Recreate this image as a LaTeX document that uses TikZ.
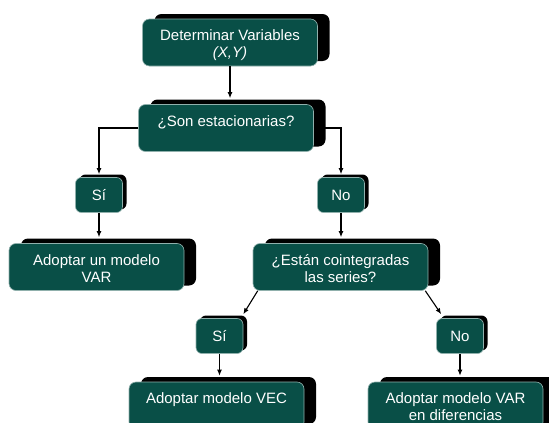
\documentclass[tikz,border=0pt]{standalone}
\usepackage{fontspec}
\setmainfont{Liberation Sans}
\usepackage{tikz}
\usetikzlibrary{shadows, arrows.meta}

\definecolor{boxgreen}{RGB}{9,79,71}

\tikzset{
    basebox/.style={draw=white!55!boxgreen, line width=0.6pt, fill=boxgreen, text=white, inner sep=0pt},
    bigbox/.style={basebox, rounded corners=7pt, minimum width=175pt, minimum height=47pt,
        drop shadow={shadow xshift=12pt, shadow yshift=5pt, fill=black, opacity=1}},
    smallbox/.style={basebox, rounded corners=6pt, minimum width=47pt, minimum height=35pt,
        drop shadow={shadow xshift=4pt, shadow yshift=3pt, fill=black, opacity=1}},
    boxtext/.style={anchor=north, yshift=-11pt, align=center, text=white, inner sep=0pt},
    arr/.style={-{Latex[length=6pt, width=5pt]}, line width=1.1pt},
}

\begin{document}
\begin{tikzpicture}[x=1pt, y=-1pt, font=\fontsize{15}{17}\selectfont]
    \useasboundingbox (0,0) rectangle (549,423);
    \clip (0,0) rectangle (549,423);

    % question boxes
    \node[bigbox, label={[boxtext]north:Determinar Variables\\\textit{(X,Y)}}] (vars) at (230,42.5) {};
    \node[bigbox, label={[boxtext]north:¿Son estacionarias?}] (estac) at (226,128) {};
    \node[bigbox, label={[boxtext]north:¿Están cointegradas\\las series?}] (coint) at (340.5,267) {};

    % answers
    \node[smallbox] (si1) at (99,195) {Sí};
    \node[smallbox] (no1) at (341,195) {No};
    \node[smallbox] (si2) at (219.5,336) {Sí};
    \node[smallbox] (no2) at (460,336) {No};

    % results
    \node[bigbox, label={[boxtext]north:Adoptar un modelo\\VAR}] (var) at (96.5,267) {};
    \node[bigbox, label={[boxtext]north:Adoptar modelo VEC}] (vec) at (216.5,405.5) {};
    \node[bigbox, label={[boxtext]north:Adoptar modelo VAR\\en diferencias}] (vardif) at (455.5,405.5) {};

    % connectors
    \draw[arr, shorten >=6pt] (vars.south) -- (vars.south |- estac.north);
    \draw[arr, shorten >=3pt] (estac.west) -| (si1.north);
    \draw[arr, shorten >=3pt] (estac.east) -| (no1.north);
    \draw[arr, shorten >=6pt] (si1.south) -- (si1.south |- var.north);
    \draw[arr, shorten >=6pt] (no1.south) -- (no1.south |- coint.north);
    \draw[arr] ([xshift=5pt]coint.south west) -- ([yshift=4pt]si2.north east);
    \draw[arr] ([xshift=-3pt]coint.south east) -- ([xshift=5pt, yshift=4pt]no2.north west);
    \draw[arr, shorten >=6pt] (si2.south) -- (si2.south |- vec.north);
    \draw[arr, shorten >=6pt] (no2.south) -- (no2.south |- vardif.north);
\end{tikzpicture}
\end{document}
